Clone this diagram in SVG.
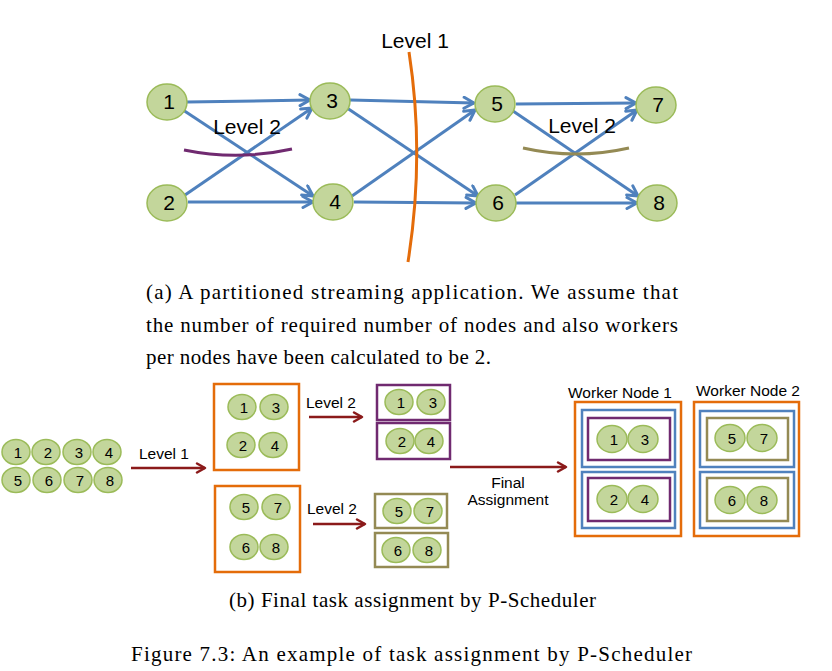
<svg xmlns="http://www.w3.org/2000/svg" width="832" height="671" viewBox="0 0 832 671">
<style>
.nd{fill:#C3D69B;stroke:#9BBB59;stroke-width:1.5}
.t1{font-family:"Liberation Sans",Arial,sans-serif;font-size:21px;fill:#000;text-anchor:middle}
.t2{font-family:"Liberation Sans",Arial,sans-serif;font-size:15px;fill:#000;text-anchor:middle}
.lb{font-family:"Liberation Sans",Arial,sans-serif;fill:#000;text-anchor:middle}
.cap{font-family:"Liberation Serif","Times New Roman",serif;font-size:21px;fill:#000}
.ba{stroke:#4F81BD;stroke-width:3;fill:none;marker-end:url(#ab)}
.ra{stroke:#8B1A1A;stroke-width:2.5;fill:none;marker-end:url(#ar)}
.or{fill:none;stroke:#E46C0A;stroke-width:2.5}
.pu{fill:none;stroke:#702A70;stroke-width:2.5}
.ol{fill:none;stroke:#948A54;stroke-width:2.5}
.bl{fill:none;stroke:#4F81BD;stroke-width:2.5}
</style>
<defs>
<marker id="ab" viewBox="0 0 14 14" refX="12" refY="7" markerWidth="14" markerHeight="14" markerUnits="userSpaceOnUse" orient="auto">
<path d="M2,1.5 L12,7 L2,12.5" fill="none" stroke="#4F81BD" stroke-width="3" stroke-linecap="round" stroke-linejoin="round"/>
</marker>
<marker id="ar" viewBox="0 0 12 12" refX="10" refY="6" markerWidth="12" markerHeight="12" markerUnits="userSpaceOnUse" orient="auto">
<path d="M2,1.5 L10,6 L2,10.5" fill="none" stroke="#8B1A1A" stroke-width="2.5" stroke-linecap="round" stroke-linejoin="round"/>
</marker>
</defs>
<rect width="832" height="671" fill="#fff"/>

<!-- Top graph connectors -->
<g id="connectors">
<path class="ba" d="M187,102 L310,100"/>
<path class="ba" d="M183,110 L313,196"/>
<path class="ba" d="M185,195 L312,108"/>
<path class="ba" d="M188,202 L313,202"/>
<path class="ba" d="M350,100 L474,103"/>
<path class="ba" d="M347,108 L478,196"/>
<path class="ba" d="M352,196 L475,110"/>
<path class="ba" d="M354,202 L476,203"/>
<path class="ba" d="M516,104 L636,103"/>
<path class="ba" d="M513,111 L638,196"/>
<path class="ba" d="M515,195 L637,110"/>
<path class="ba" d="M516,203 L637,203"/>
<!-- bottom arrows -->
<path class="ra" d="M131,468 L205,468"/>
<path class="ra" d="M309,417 L362,417"/>
<path class="ra" d="M313,524 L365,524"/>
<path class="ra" d="M450,467 L566,467"/>
</g>

<!-- Partition curves -->
<g id="cuts">
<path d="M409,52 Q425,155 408,262" fill="none" stroke="#E46C0A" stroke-width="3"/>
<path d="M184,150 Q238,161 292,149" fill="none" stroke="#702A70" stroke-width="3"/>
<path d="M523,148 Q576,160 629,148" fill="none" stroke="#948A54" stroke-width="3"/>
<text class="lb" x="415" y="48" font-size="21">Level 1</text>
<text class="lb" x="247" y="134" font-size="21">Level 2</text>
<text class="lb" x="582" y="133" font-size="21">Level 2</text>
</g>

<!-- Top graph nodes -->
<g id="n1"><ellipse class="nd" cx="167" cy="102" rx="20" ry="18"/><text class="t1" x="169" y="109">1</text></g>
<g id="n2"><ellipse class="nd" cx="167" cy="203" rx="20" ry="18"/><text class="t1" x="169" y="210">2</text></g>
<g id="n3"><ellipse class="nd" cx="330" cy="101" rx="20" ry="18"/><text class="t1" x="332" y="108">3</text></g>
<g id="n4"><ellipse class="nd" cx="333" cy="202" rx="20" ry="18"/><text class="t1" x="335" y="209">4</text></g>
<g id="n5"><ellipse class="nd" cx="495" cy="104" rx="20" ry="18"/><text class="t1" x="497" y="111">5</text></g>
<g id="n6"><ellipse class="nd" cx="496" cy="203" rx="20" ry="18"/><text class="t1" x="498" y="210">6</text></g>
<g id="n7"><ellipse class="nd" cx="656" cy="105" rx="20" ry="18"/><text class="t1" x="658" y="112">7</text></g>
<g id="n8"><ellipse class="nd" cx="657" cy="203" rx="20" ry="18"/><text class="t1" x="659" y="210">8</text></g>

<!-- Caption (a) -->
<g id="caption-a">
<text class="cap" x="146" y="299" textLength="532" lengthAdjust="spacing">(a) A partitioned streaming application.  We assume that</text>
<text class="cap" x="146" y="332" textLength="532" lengthAdjust="spacing">the number of required number of nodes and also workers</text>
<text class="cap" x="146" y="364" textLength="345" lengthAdjust="spacing">per nodes have been calculated to be 2.</text>
</g>

<!-- Bottom: all tasks -->
<g id="all-tasks">
<ellipse class="nd" cx="16" cy="452" rx="14" ry="12.5"/><text class="t2" x="18" y="458">1</text>
<ellipse class="nd" cx="46" cy="452" rx="14" ry="12.5"/><text class="t2" x="48" y="458">2</text>
<ellipse class="nd" cx="77" cy="452" rx="14" ry="12.5"/><text class="t2" x="79" y="458">3</text>
<ellipse class="nd" cx="107" cy="452" rx="14" ry="12.5"/><text class="t2" x="109" y="458">4</text>
<ellipse class="nd" cx="16" cy="480" rx="14" ry="12.5"/><text class="t2" x="18" y="486">5</text>
<ellipse class="nd" cx="47" cy="480" rx="14" ry="12.5"/><text class="t2" x="49" y="486">6</text>
<ellipse class="nd" cx="78" cy="480" rx="14" ry="12.5"/><text class="t2" x="80" y="486">7</text>
<ellipse class="nd" cx="108" cy="480" rx="14" ry="12.5"/><text class="t2" x="110" y="486">8</text>
</g>
<text class="lb" x="164" y="459" font-size="15.5">Level 1</text>
<text class="lb" x="331" y="408" font-size="15.5">Level 2</text>
<text class="lb" x="332" y="514" font-size="15.5">Level 2</text>
<text class="lb" x="508" y="488" font-size="15.5">Final</text>
<text class="lb" x="508" y="505" font-size="15.5">Assignment</text>

<!-- Level 1 partitions -->
<g id="part-a">
<rect class="or" x="214" y="384" width="85" height="86"/>
<ellipse class="nd" cx="242" cy="407" rx="14" ry="12.5"/><text class="t2" x="244" y="413">1</text>
<ellipse class="nd" cx="274" cy="407" rx="14" ry="12.5"/><text class="t2" x="276" y="413">3</text>
<ellipse class="nd" cx="241" cy="445" rx="14" ry="12.5"/><text class="t2" x="243" y="451">2</text>
<ellipse class="nd" cx="273" cy="445" rx="14" ry="12.5"/><text class="t2" x="275" y="451">4</text>
</g>
<g id="part-b">
<rect class="or" x="215" y="486" width="85" height="86"/>
<ellipse class="nd" cx="244" cy="507" rx="14" ry="12.5"/><text class="t2" x="246" y="513">5</text>
<ellipse class="nd" cx="276" cy="507" rx="14" ry="12.5"/><text class="t2" x="278" y="513">7</text>
<ellipse class="nd" cx="244" cy="547" rx="14" ry="12.5"/><text class="t2" x="246" y="553">6</text>
<ellipse class="nd" cx="274" cy="547" rx="14" ry="12.5"/><text class="t2" x="276" y="553">8</text>
</g>

<!-- Level 2 partitions -->
<g id="part-13">
<rect class="pu" x="377" y="385" width="73" height="35"/>
<ellipse class="nd" cx="399" cy="402" rx="14" ry="12.5"/><text class="t2" x="401" y="408">1</text>
<ellipse class="nd" cx="431" cy="402" rx="14" ry="12.5"/><text class="t2" x="433" y="408">3</text>
</g>
<g id="part-24">
<rect class="pu" x="377" y="423" width="73" height="36"/>
<ellipse class="nd" cx="400" cy="441" rx="14" ry="12.5"/><text class="t2" x="402" y="447">2</text>
<ellipse class="nd" cx="429" cy="441" rx="14" ry="12.5"/><text class="t2" x="431" y="447">4</text>
</g>
<g id="part-57">
<rect class="ol" x="375" y="494" width="72" height="34"/>
<ellipse class="nd" cx="397" cy="511" rx="14" ry="12.5"/><text class="t2" x="399" y="517">5</text>
<ellipse class="nd" cx="428" cy="511" rx="14" ry="12.5"/><text class="t2" x="430" y="517">7</text>
</g>
<g id="part-68">
<rect class="ol" x="375" y="533" width="73" height="34"/>
<ellipse class="nd" cx="396" cy="550" rx="14" ry="12.5"/><text class="t2" x="398" y="556">6</text>
<ellipse class="nd" cx="427" cy="550" rx="14" ry="12.5"/><text class="t2" x="429" y="556">8</text>
</g>

<!-- Worker Node 1 -->
<g id="worker1">
<text class="lb" x="620" y="398" font-size="15.5">Worker Node 1</text>
<rect class="or" x="575" y="402" width="106" height="134"/>
<rect class="bl" x="582" y="410" width="93" height="57"/>
<rect class="pu" x="588" y="418" width="82" height="42"/>
<ellipse class="nd" cx="612" cy="439" rx="15" ry="13.5"/><text class="t2" x="614" y="445">1</text>
<ellipse class="nd" cx="643" cy="439" rx="15" ry="13.5"/><text class="t2" x="645" y="445">3</text>
<rect class="bl" x="582" y="472" width="93" height="56"/>
<rect class="pu" x="588" y="478" width="82" height="43"/>
<ellipse class="nd" cx="612" cy="499" rx="15" ry="13.5"/><text class="t2" x="614" y="505">2</text>
<ellipse class="nd" cx="643" cy="499" rx="15" ry="13.5"/><text class="t2" x="645" y="505">4</text>
</g>

<!-- Worker Node 2 -->
<g id="worker2">
<text class="lb" x="748" y="396" font-size="15.5">Worker Node 2</text>
<rect class="or" x="694" y="402" width="105" height="134"/>
<rect class="bl" x="700" y="411" width="94" height="56"/>
<rect class="ol" x="707" y="418" width="81" height="42"/>
<ellipse class="nd" cx="730" cy="438" rx="15" ry="13.5"/><text class="t2" x="732" y="444">5</text>
<ellipse class="nd" cx="762" cy="438" rx="15" ry="13.5"/><text class="t2" x="764" y="444">7</text>
<rect class="bl" x="700" y="472" width="94" height="56"/>
<rect class="ol" x="707" y="478" width="81" height="43"/>
<ellipse class="nd" cx="730" cy="500" rx="15" ry="13.5"/><text class="t2" x="732" y="506">6</text>
<ellipse class="nd" cx="762" cy="500" rx="15" ry="13.5"/><text class="t2" x="764" y="506">8</text>
</g>

<!-- Captions -->
<text class="cap" x="229" y="607" textLength="367" lengthAdjust="spacing">(b) Final task assignment by P-Scheduler</text>
<text class="cap" x="131" y="661" font-size="22" textLength="561" lengthAdjust="spacing">Figure 7.3: An example of task assignment by P-Scheduler</text>
</svg>
